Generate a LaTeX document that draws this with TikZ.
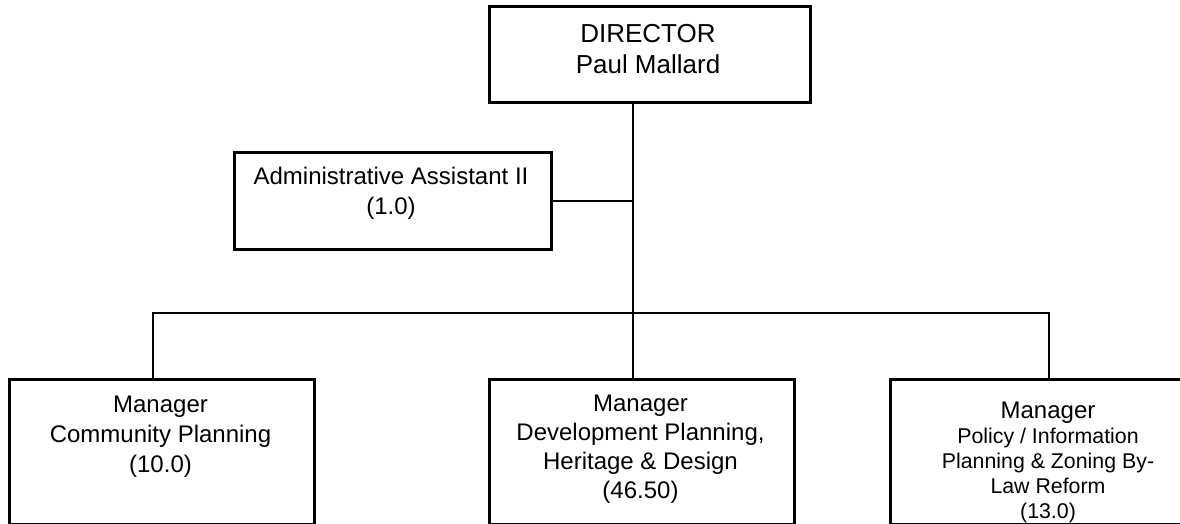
\documentclass[tikz,border=0pt]{standalone}
\usepackage{fontspec}
\setmainfont{Liberation Sans}
\usetikzlibrary{positioning}
\newcommand{\pxu}{0.75pt}
\tikzstyle{post}=[rectangle, anchor=north west, draw=black, line width=2pt,
inner sep=0pt, minimum height=145*\pxu]
\tikzstyle{caption}=[anchor=base, align=center, inner sep=0pt,
font=\fontsize{18}{22.5}\selectfont]
\tikzstyle{link}=[line width=1.7pt, draw=black]

\begin{document}
\begin{tikzpicture}[x=\pxu, y=-\pxu]
  \useasboundingbox (0,0) rectangle (1180,524);
  \clip (0,0) rectangle (1180,524);
  % boxes
  \node (director) [post, minimum width=321*\pxu, minimum height=96*\pxu] at (488,5) {};
  \node (admin) [post, minimum width=317*\pxu, minimum height=97*\pxu] at (233,151) {};
  \node (community) [post, minimum width=305*\pxu] at (8,378) {};
  \node (development) [post, minimum width=305*\pxu] at (488,378) {};
  \node (policy) [post, minimum width=318*\pxu] at (889,378) {};
  % texts (anchored at the last baseline)
  \node (directorText) [caption, font=\fontsize{19.5}{23.25}\selectfont] at (648,74)
    {DIRECTOR\\Paul Mallard};
  \node (adminText) [caption] at (391,214) {Administrative Assistant II\\(1.0)};
  \node (communityText) [caption] at (160.5,472)
    {Manager\\Community Planning\\(10.0)};
  \node (developmentText) [caption, font=\fontsize{18}{21.75}\selectfont] at (640.5,498)
    {Manager\\Development Planning,\\Heritage \& Design\\(46.50)};
  \node (policyText) [caption, font=\fontsize{16}{18.75}\selectfont] at (1048,518)
    {{\fontsize{18}{18.75}\selectfont Manager}\\Policy / Information\\Planning \& Zoning By-\\Law Reform\\(13.0)};
  % connectors
  \coordinate (trunk) at (633,313);
  \coordinate (dropLeft) at (153,313);
  \coordinate (dropRight) at (1049,313);
  \draw [link] (director.south -| trunk) -- (development.north -| trunk);
  \draw [link] (admin.east) -- (admin.east -| trunk);
  \draw [link] (community.north -| dropLeft) -- (dropLeft) -- (dropRight)
    -- (policy.north -| dropRight);
\end{tikzpicture}
\end{document}
